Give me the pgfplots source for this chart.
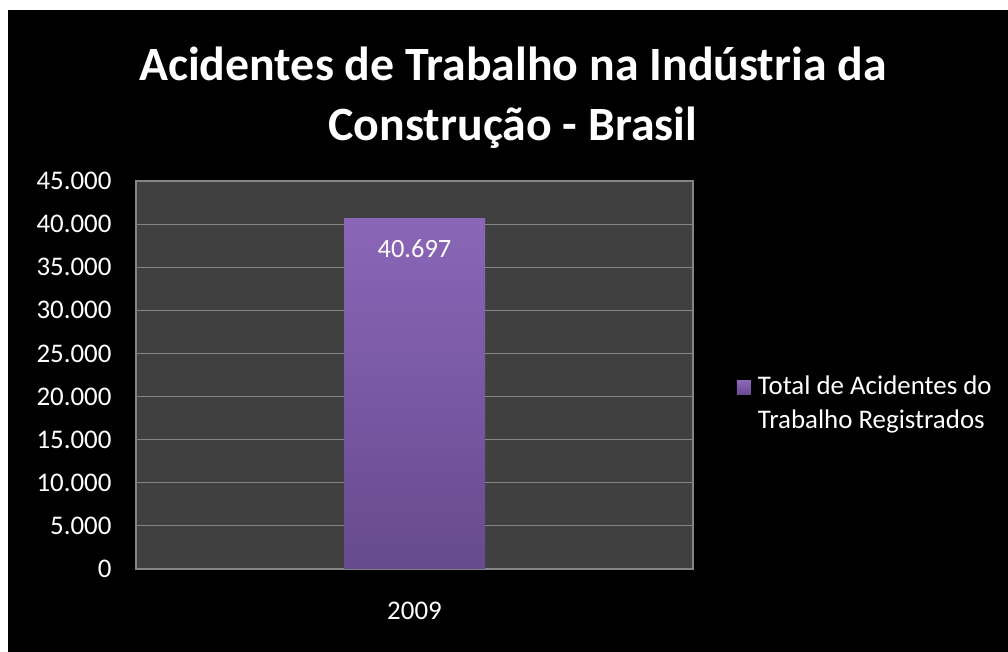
\documentclass[border=0pt]{standalone}
\usepackage{fontspec}
\setmainfont{Carlito}
\usepackage{pgfplots}
\pgfplotsset{compat=1.18}
\definecolor{plotbg}{HTML}{404040}
\definecolor{gridc}{HTML}{858585}
\definecolor{bartop}{HTML}{8B66B8}
\definecolor{barbot}{HTML}{664A8E}
\begin{document}
\begin{tikzpicture}[x=1bp,y=1bp]
\fill[white] (0,0) rectangle (1008,652);
\fill[black] (8,0) rectangle (1008,642);
\node[text=white, font=\bfseries\fontsize{48}{60}\selectfont, align=center] at (513,554) {Acidentes de Trabalho na Indústria da\\Construção - Brasil};
\begin{axis}[
  at={(136bp,83bp)}, anchor=south west,
  scale only axis, width=557bp, height=388bp,
  xmin=-1, xmax=1, ymin=0, ymax=45000,
  ytick={0,5000,...,45000},
  xtick={0}, xticklabels={2009},
  axis background/.style={fill=plotbg},
  axis line style={gridc, line width=1.2bp},
  ymajorgrids, grid style={gridc, line width=1.2bp},
  major tick length=0pt,
  tick label style={text=white, font=\fontsize{27}{30}\selectfont},
  /pgf/number format/assume math mode=true,
  /pgf/number format/.cd, fixed, 1000 sep={.}, /pgfplots/.cd,
  scaled y ticks=false,
  yticklabel style={xshift=-21bp},
  xticklabel style={yshift=-30bp},
  legend style={at={(1.073,0.428)}, anchor=west, draw=none, fill=none, text=white, font=\fontsize{27}{34}\selectfont, cells={align=left}},
  legend image code/.code={\fill[top color=bartop, bottom color=barbot] (-9bp,8bp) rectangle (5bp,22bp); \path (10bp,15bp) -- (10bp,15bp);},
  nodes near coords,
  nodes near coords style={text=white, font=\fontsize{26.5}{30}\selectfont, anchor=north, yshift=-18bp, /pgf/number format/.cd, fixed, 1000 sep={.}},
]
\addplot[ybar, bar width=141bp, draw=none, top color=bartop, bottom color=barbot] coordinates {(0,40697)};
\addlegendentry{Total de Acidentes do\\Trabalho Registrados}
\end{axis}
\end{tikzpicture}
\end{document}
